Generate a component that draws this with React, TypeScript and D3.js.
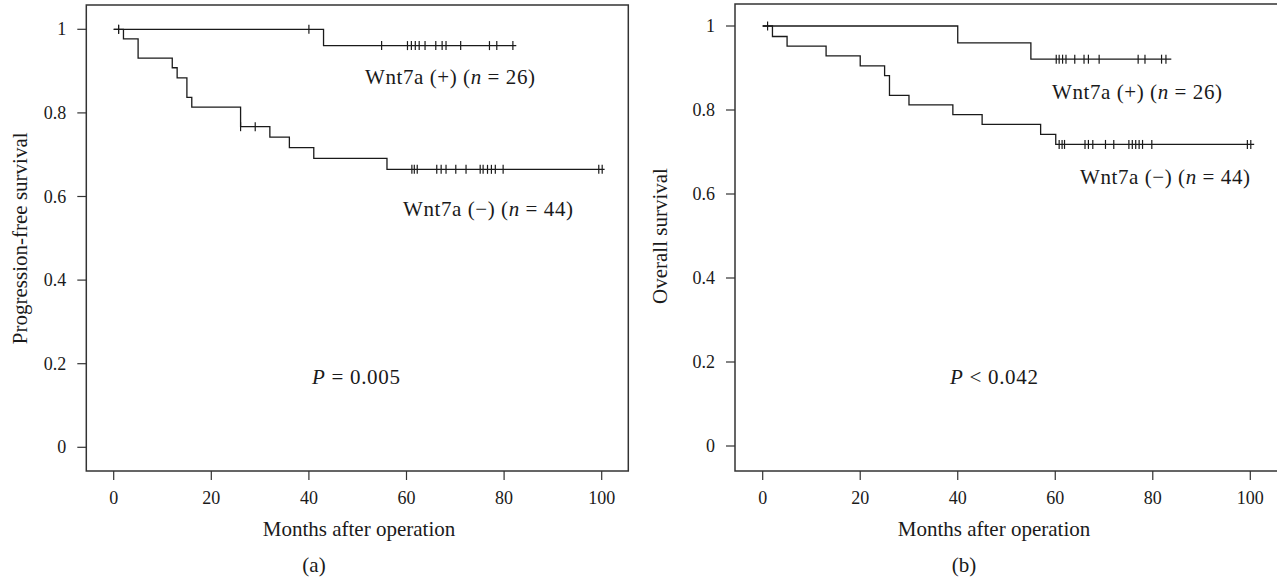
import * as d3 from "d3";

// Kaplan-Meier step data (months, survival)
const pfsPosTimes = [0, 43];
const pfsPosSurv = [1, 0.961];
const pfsPosEnd = 82.5;
const pfsPosCensor = [1, 40, 54.9, 60.2, 61.0, 61.8, 62.6, 63.8, 66.0, 67.3, 68.1, 71.1, 77.0, 78.5, 81.8];

const pfsNegTimes = [0, 2, 5, 12, 13, 15, 16, 26, 32, 36, 41, 56];
const pfsNegSurv = [1, 0.977, 0.931, 0.908, 0.884, 0.837, 0.814, 0.767, 0.742, 0.717, 0.691, 0.665];
const pfsNegEnd = 100.6;
const pfsNegCensor = [1, 26, 29, 61.1, 61.6, 62.2, 66.2, 67.1, 68.1, 70.1, 72.2, 75.1, 75.7, 76.6, 77.4, 78.2, 79.8, 99.4, 100.1];

const osPosTimes = [0, 40, 55];
const osPosSurv = [1, 0.96, 0.921];
const osPosEnd = 83.8;
const osPosCensor = [1, 60.2, 60.8, 61.5, 62.2, 64.0, 65.9, 66.8, 69.0, 77.0, 78.4, 81.8, 82.7];

const osNegTimes = [0, 2, 5, 13, 20, 25, 26, 30, 39, 45, 57, 60.1];
const osNegSurv = [1, 0.975, 0.952, 0.929, 0.905, 0.882, 0.835, 0.812, 0.789, 0.766, 0.742, 0.718];
const osNegEnd = 100.8;
const osNegCensor = [60.8, 61.4, 61.9, 66.1, 66.8, 67.7, 70.3, 72.0, 75.1, 75.8, 76.5, 77.2, 77.9, 79.8, 99.4, 100.1];

const xTicks = [0, 20, 40, 60, 80, 100];
const yTicks = [0, 0.2, 0.4, 0.6, 0.8, 1];
const yTickLabels = ["0", "0.2", "0.4", "0.6", "0.8", "1"];

const FONT = "'Liberation Serif', 'Times New Roman', serif";

function makeCurve(times, surv, end) {
  const pts = times.map((t, i) => [t, surv[i]]);
  pts.push([end, surv[surv.length - 1]]);
  return pts;
}

function survAt(times, surv, t) {
  let v = surv[0];
  for (let i = 0; i < times.length; i++) if (times[i] <= t) v = surv[i];
  return v;
}

function Panel({ box, xr, yr, curves, yTitle, yTitleX, xTitleX, letter, letterX, pText, pX, labels }) {
  const x = d3.scaleLinear().domain([0, 100]).range(xr);
  const y = d3.scaleLinear().domain([0, 1]).range(yr);
  const line = d3
    .line()
    .x((d) => x(d[0]))
    .y((d) => y(d[1]))
    .curve(d3.curveStepAfter);
  const yMid = (yr[0] + yr[1]) / 2;

  return (
    <g fontFamily={FONT} fill="#1a1a1a">
      <rect x={box.l} y={box.t} width={box.r - box.l} height={box.b - box.t} fill="none" stroke="#333" strokeWidth={1.5} />
      {xTicks.map((t) => (
        <g key={"x" + t}>
          <line x1={x(t)} x2={x(t)} y1={box.b} y2={box.b + 9} stroke="#333" strokeWidth={1.2} />
          <text x={x(t)} y={504} fontSize={18} textAnchor="middle">{t}</text>
        </g>
      ))}
      {yTicks.map((t, i) => (
        <g key={"y" + t}>
          <line x1={box.l - 9} x2={box.l} y1={y(t)} y2={y(t)} stroke="#333" strokeWidth={1.2} />
          <text x={box.l - 20} y={y(t) + 6} fontSize={18} textAnchor="end">{yTickLabels[i]}</text>
        </g>
      ))}
      {curves.map((c, i) => (
        <g key={"c" + i}>
          <path d={line(makeCurve(c.times, c.surv, c.end))} fill="none" stroke="#1a1a1a" strokeWidth={1.3} />
          {c.censor.map((t, j) => {
            const v = survAt(c.times, c.surv, t);
            return (
              <line key={j} x1={x(t)} x2={x(t)} y1={y(v) - 4.5} y2={y(v) + 4.5} stroke="#1a1a1a" strokeWidth={1.2} />
            );
          })}
        </g>
      ))}
      {labels.map((l, i) => (
        <text key={"l" + i} x={l.x} y={l.y} fontSize={21} textLength={170} lengthAdjust="spacing">
          {l.text}
          <tspan fontStyle="italic">n</tspan>
          {" = " + l.n + ")"}
        </text>
      ))}
      <text x={pX} y={384} fontSize={21} textAnchor="middle" textLength={88} lengthAdjust="spacing">
        <tspan fontStyle="italic">P</tspan>
        {pText}
      </text>
      <text x={xTitleX} y={536} fontSize={21} textAnchor="middle">Months after operation</text>
      <text x={letterX} y={572} fontSize={21} textAnchor="middle">{letter}</text>
      <text transform={`translate(${yTitleX},${yMid}) rotate(-90)`} fontSize={21} textAnchor="middle">{yTitle}</text>
    </g>
  );
}

export default function App() {
  return (
    <svg width={1277} height={583} style={{ position: "absolute", left: 0, top: 0, background: "#fff" }}>
      <Panel
        box={{ l: 86.3, r: 628.3, t: 5, b: 471 }}
        xr={[113.7, 601.7]}
        yr={[447.3, 29.3]}
        curves={[
          { times: pfsPosTimes, surv: pfsPosSurv, end: pfsPosEnd, censor: pfsPosCensor },
          { times: pfsNegTimes, surv: pfsNegSurv, end: pfsNegEnd, censor: pfsNegCensor },
        ]}
        yTitle="Progression-free survival"
        yTitleX={27}
        xTitleX={359}
        letter="(a)"
        letterX={314}
        pText=" = 0.005"
        pX={356}
        labels={[
          { x: 365, y: 84, text: "Wnt7a (+) (", n: 26 },
          { x: 403, y: 216, text: "Wnt7a (\u2212) (", n: 44 },
        ]}
      />
      <Panel
        box={{ l: 735, r: 1278, t: 4, b: 471 }}
        xr={[762.7, 1250.3]}
        yr={[446, 26]}
        curves={[
          { times: osPosTimes, surv: osPosSurv, end: osPosEnd, censor: osPosCensor },
          { times: osNegTimes, surv: osNegSurv, end: osNegEnd, censor: osNegCensor },
        ]}
        yTitle="Overall survival"
        yTitleX={667}
        xTitleX={994}
        letter="(b)"
        letterX={964}
        pText=" < 0.042"
        pX={994}
        labels={[
          { x: 1052, y: 99, text: "Wnt7a (+) (", n: 26 },
          { x: 1080, y: 184, text: "Wnt7a (\u2212) (", n: 44 },
        ]}
      />
    </svg>
  );
}
